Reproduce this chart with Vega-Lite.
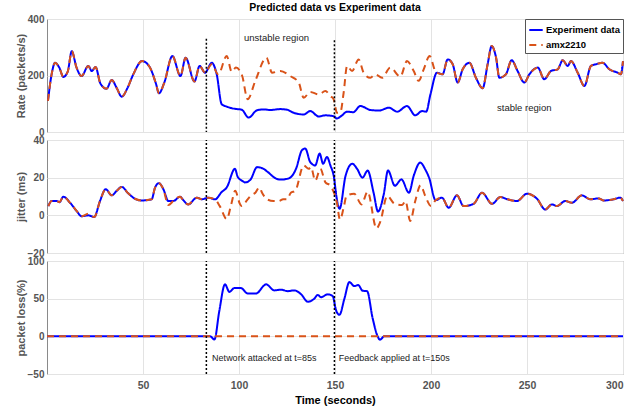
{
  "$schema": "https://vega.github.io/schema/vega-lite/v6.json",
  "padding": {"left": 14, "top": 2, "right": 5, "bottom": 5},
  "bounds": "flush",
  "config": {
    "font": "Liberation Sans",
    "view": {"stroke": "#8a8a8a", "strokeWidth": 1},
    "axis": {"gridColor": "#e3e3e3", "grid": true, "domain": false, "ticks": false, "labelFont": "Liberation Sans", "labelFontWeight": "bold", "labelColor": "#555555", "labelFontSize": 10, "titleFont": "Liberation Sans", "titleFontWeight": "bold", "titleFontSize": 11, "titleColor": "#555555"},
    "axisY": {"minExtent": 18, "maxExtent": 18, "labelPadding": 3, "titlePadding": 3},
    "line": {"strokeWidth": 2, "interpolate": "monotone"}
  },
  "spacing": 8,
  "resolve": {"legend": {"color": "independent", "strokeDash": "independent"}},
  "datasets": {
    "rate": [
      {"series":"Experiment data","t":0.5,"v":110},{"series":"Experiment data","t":2.4,"v":204},{"series":"Experiment data","t":4.2,"v":245},{"series":"Experiment data","t":6.4,"v":228},{"series":"Experiment data","t":8.5,"v":195},{"series":"Experiment data","t":10.8,"v":214},{"series":"Experiment data","t":12.9,"v":286},{"series":"Experiment data","t":15.3,"v":230},{"series":"Experiment data","t":18,"v":198},{"series":"Experiment data","t":21.5,"v":234},{"series":"Experiment data","t":23.3,"v":216},{"series":"Experiment data","t":25.3,"v":230},{"series":"Experiment data","t":27.8,"v":172},{"series":"Experiment data","t":31,"v":153},{"series":"Experiment data","t":33.7,"v":184},{"series":"Experiment data","t":36.3,"v":156},{"series":"Experiment data","t":38.9,"v":125},{"series":"Experiment data","t":42,"v":157},{"series":"Experiment data","t":45,"v":205},{"series":"Experiment data","t":49.5,"v":251},{"series":"Experiment data","t":53.3,"v":232},{"series":"Experiment data","t":56.8,"v":170},{"series":"Experiment data","t":58.3,"v":137},{"series":"Experiment data","t":61.1,"v":175},{"series":"Experiment data","t":65.3,"v":269},{"series":"Experiment data","t":69.5,"v":198},{"series":"Experiment data","t":72.2,"v":263},{"series":"Experiment data","t":76.8,"v":179},{"series":"Experiment data","t":79.5,"v":234},{"series":"Experiment data","t":82.3,"v":210},
      {"series":"Experiment data","t":85.8,"v":245},{"series":"Experiment data","t":88.4,"v":204},{"series":"Experiment data","t":91,"v":98},{"series":"Experiment data","t":93.6,"v":90},{"series":"Experiment data","t":97.9,"v":82},{"series":"Experiment data","t":101.4,"v":79},{"series":"Experiment data","t":105,"v":51},{"series":"Experiment data","t":109.4,"v":77},{"series":"Experiment data","t":113,"v":80},{"series":"Experiment data","t":116.3,"v":78},{"series":"Experiment data","t":121.5,"v":81},{"series":"Experiment data","t":125,"v":79},{"series":"Experiment data","t":128.5,"v":68},{"series":"Experiment data","t":133.7,"v":62},{"series":"Experiment data","t":137.1,"v":74},{"series":"Experiment data","t":141.5,"v":55},{"series":"Experiment data","t":145,"v":59},{"series":"Experiment data","t":149.3,"v":56},{"series":"Experiment data","t":151,"v":48},{"series":"Experiment data","t":153.5,"v":58},{"series":"Experiment data","t":156.3,"v":72},{"series":"Experiment data","t":159.5,"v":70},{"series":"Experiment data","t":163.2,"v":92},{"series":"Experiment data","t":168.4,"v":78},{"series":"Experiment data","t":173,"v":76},{"series":"Experiment data","t":178,"v":86},{"series":"Experiment data","t":182.4,"v":72},{"series":"Experiment data","t":187.5,"v":92},{"series":"Experiment data","t":191.8,"v":59},{"series":"Experiment data","t":195.3,"v":74},{"series":"Experiment data","t":197.5,"v":72},{"series":"Experiment data","t":199.7,"v":133},{"series":"Experiment data","t":203.1,"v":210},
      {"series":"Experiment data","t":206,"v":204},{"series":"Experiment data","t":208.7,"v":257},{"series":"Experiment data","t":211.3,"v":240},{"series":"Experiment data","t":213.9,"v":175},{"series":"Experiment data","t":216.5,"v":222},{"series":"Experiment data","t":220,"v":245},{"series":"Experiment data","t":223.4,"v":192},{"series":"Experiment data","t":226.9,"v":155},{"series":"Experiment data","t":229.5,"v":240},{"series":"Experiment data","t":231.6,"v":304},{"series":"Experiment data","t":233.9,"v":263},{"series":"Experiment data","t":235.6,"v":192},{"series":"Experiment data","t":239,"v":204},{"series":"Experiment data","t":242,"v":254},{"series":"Experiment data","t":245.1,"v":216},{"series":"Experiment data","t":248.6,"v":175},{"series":"Experiment data","t":251.2,"v":204},{"series":"Experiment data","t":255.6,"v":228},{"series":"Experiment data","t":259,"v":187},{"series":"Experiment data","t":262.5,"v":216},{"series":"Experiment data","t":266,"v":222},{"series":"Experiment data","t":268.6,"v":254},{"series":"Experiment data","t":271.2,"v":234},{"series":"Experiment data","t":272.9,"v":251},{"series":"Experiment data","t":276.4,"v":210},{"series":"Experiment data","t":279.9,"v":163},{"series":"Experiment data","t":283.3,"v":234},{"series":"Experiment data","t":285.9,"v":240},{"series":"Experiment data","t":289.4,"v":245},{"series":"Experiment data","t":292.9,"v":222},{"series":"Experiment data","t":297.2,"v":210},{"series":"Experiment data","t":298.9,"v":204},{"series":"Experiment data","t":300,"v":251},
      {"series":"amx2210","t":0.5,"v":110},{"series":"amx2210","t":2.4,"v":204},{"series":"amx2210","t":4.2,"v":245},{"series":"amx2210","t":6.4,"v":228},{"series":"amx2210","t":8.5,"v":195},{"series":"amx2210","t":10.8,"v":214},{"series":"amx2210","t":12.9,"v":286},{"series":"amx2210","t":15.3,"v":230},{"series":"amx2210","t":18,"v":198},{"series":"amx2210","t":21.5,"v":234},{"series":"amx2210","t":23.3,"v":216},{"series":"amx2210","t":25.3,"v":230},{"series":"amx2210","t":27.8,"v":172},{"series":"amx2210","t":31,"v":153},{"series":"amx2210","t":33.7,"v":184},{"series":"amx2210","t":36.3,"v":156},{"series":"amx2210","t":38.9,"v":125},{"series":"amx2210","t":42,"v":157},{"series":"amx2210","t":45,"v":205},{"series":"amx2210","t":49.5,"v":251},{"series":"amx2210","t":53.3,"v":232},{"series":"amx2210","t":56.8,"v":170},{"series":"amx2210","t":58.3,"v":137},{"series":"amx2210","t":61.1,"v":175},{"series":"amx2210","t":65.3,"v":269},{"series":"amx2210","t":69.5,"v":198},{"series":"amx2210","t":72.2,"v":263},{"series":"amx2210","t":76.8,"v":179},{"series":"amx2210","t":79.5,"v":234},{"series":"amx2210","t":82.3,"v":210},
      {"series":"amx2210","t":85.8,"v":240},{"series":"amx2210","t":89.2,"v":204},{"series":"amx2210","t":93.6,"v":269},{"series":"amx2210","t":96.2,"v":213},{"series":"amx2210","t":98.4,"v":228},{"series":"amx2210","t":101.6,"v":200},{"series":"amx2210","t":104.5,"v":116},{"series":"amx2210","t":108.5,"v":181},{"series":"amx2210","t":114.3,"v":263},{"series":"amx2210","t":117.2,"v":210},{"series":"amx2210","t":121.5,"v":216},{"series":"amx2210","t":126.7,"v":198},{"series":"amx2210","t":131.1,"v":175},{"series":"amx2210","t":133.7,"v":121},{"series":"amx2210","t":137.1,"v":142},{"series":"amx2210","t":141.5,"v":133},{"series":"amx2210","t":145,"v":145},{"series":"amx2210","t":147.6,"v":127},{"series":"amx2210","t":149.3,"v":116},{"series":"amx2210","t":151,"v":68},{"series":"amx2210","t":152.8,"v":70},{"series":"amx2210","t":154.5,"v":139},{"series":"amx2210","t":156.3,"v":234},{"series":"amx2210","t":158.9,"v":216},{"series":"amx2210","t":162.3,"v":257},{"series":"amx2210","t":164.9,"v":210},{"series":"amx2210","t":168.4,"v":192},{"series":"amx2210","t":171,"v":204},{"series":"amx2210","t":174.5,"v":192},{"series":"amx2210","t":178.8,"v":228},{"series":"amx2210","t":184,"v":196},{"series":"amx2210","t":187.5,"v":251},{"series":"amx2210","t":191,"v":216},{"series":"amx2210","t":193.6,"v":181},{"series":"amx2210","t":196.2,"v":222},{"series":"amx2210","t":199.3,"v":269},{"series":"amx2210","t":202.2,"v":216},{"series":"amx2210","t":203.1,"v":210},
      {"series":"amx2210","t":206,"v":204},{"series":"amx2210","t":208.7,"v":257},{"series":"amx2210","t":211.3,"v":240},{"series":"amx2210","t":213.9,"v":175},{"series":"amx2210","t":216.5,"v":222},{"series":"amx2210","t":220,"v":245},{"series":"amx2210","t":223.4,"v":192},{"series":"amx2210","t":226.9,"v":155},{"series":"amx2210","t":229.5,"v":240},{"series":"amx2210","t":231.6,"v":304},{"series":"amx2210","t":233.9,"v":263},{"series":"amx2210","t":235.6,"v":192},{"series":"amx2210","t":239,"v":204},{"series":"amx2210","t":242,"v":254},{"series":"amx2210","t":245.1,"v":216},{"series":"amx2210","t":248.6,"v":175},{"series":"amx2210","t":251.2,"v":204},{"series":"amx2210","t":255.6,"v":228},{"series":"amx2210","t":259,"v":187},{"series":"amx2210","t":262.5,"v":216},{"series":"amx2210","t":266,"v":222},{"series":"amx2210","t":268.6,"v":254},{"series":"amx2210","t":271.2,"v":234},{"series":"amx2210","t":272.9,"v":251},{"series":"amx2210","t":276.4,"v":210},{"series":"amx2210","t":279.9,"v":163},{"series":"amx2210","t":283.3,"v":234},{"series":"amx2210","t":285.9,"v":240},{"series":"amx2210","t":289.4,"v":245},{"series":"amx2210","t":292.9,"v":222},{"series":"amx2210","t":297.2,"v":210},{"series":"amx2210","t":298.9,"v":204},{"series":"amx2210","t":300,"v":251}
    ],
    "jitter": [
      {"series":"Experiment data","t":0.7,"v":4.9},{"series":"Experiment data","t":2.4,"v":7.6},{"series":"Experiment data","t":5,"v":7.6},{"series":"Experiment data","t":6.5,"v":7},{"series":"Experiment data","t":8.5,"v":9.9},{"series":"Experiment data","t":12,"v":6.7},{"series":"Experiment data","t":15.5,"v":2.2},{"series":"Experiment data","t":18,"v":-0.5},{"series":"Experiment data","t":21.5,"v":0},{"series":"Experiment data","t":24.6,"v":-0.9},{"series":"Experiment data","t":27.6,"v":7.6},{"series":"Experiment data","t":30.6,"v":13.9},{"series":"Experiment data","t":33.7,"v":10.6},{"series":"Experiment data","t":36.3,"v":13},{"series":"Experiment data","t":38.9,"v":15.1},{"series":"Experiment data","t":42.3,"v":11.7},{"series":"Experiment data","t":45.8,"v":8.8},{"series":"Experiment data","t":49.3,"v":7.9},{"series":"Experiment data","t":54.5,"v":8.5},{"series":"Experiment data","t":56.3,"v":14.8},{"series":"Experiment data","t":58.3,"v":17.1},{"series":"Experiment data","t":60.6,"v":13.9},{"series":"Experiment data","t":63.2,"v":7.6},{"series":"Experiment data","t":65.8,"v":7.6},{"series":"Experiment data","t":69.3,"v":9.9},{"series":"Experiment data","t":71,"v":8},{"series":"Experiment data","t":73.6,"v":5.8},{"series":"Experiment data","t":78,"v":9.4},{"series":"Experiment data","t":80.6,"v":8.5},{"series":"Experiment data","t":84,"v":9.4},{"series":"Experiment data","t":87.5,"v":8.5},
      {"series":"Experiment data","t":91,"v":12.4},{"series":"Experiment data","t":93.6,"v":14.8},{"series":"Experiment data","t":97.9,"v":24.7},{"series":"Experiment data","t":99.3,"v":20.5},{"series":"Experiment data","t":101.4,"v":18.5},{"series":"Experiment data","t":103.3,"v":17.5},{"series":"Experiment data","t":106,"v":19},{"series":"Experiment data","t":109.4,"v":25.6},{"series":"Experiment data","t":112.8,"v":24.7},{"series":"Experiment data","t":115,"v":23},{"series":"Experiment data","t":119.8,"v":19.3},{"series":"Experiment data","t":122,"v":19},{"series":"Experiment data","t":125.9,"v":19.6},{"series":"Experiment data","t":129.7,"v":24.7},{"series":"Experiment data","t":132.8,"v":34.6},{"series":"Experiment data","t":134.5,"v":35.5},{"series":"Experiment data","t":137.1,"v":28.3},{"series":"Experiment data","t":139.7,"v":26.5},{"series":"Experiment data","t":142,"v":32.8},{"series":"Experiment data","t":143.8,"v":27.4},{"series":"Experiment data","t":145.8,"v":31},{"series":"Experiment data","t":147.6,"v":26.5},{"series":"Experiment data","t":149.5,"v":20},{"series":"Experiment data","t":150.7,"v":10.3},{"series":"Experiment data","t":152.4,"v":3.5},{"series":"Experiment data","t":155.5,"v":21},{"series":"Experiment data","t":159,"v":27.4},{"series":"Experiment data","t":161.5,"v":24.7},{"series":"Experiment data","t":164.3,"v":20},{"series":"Experiment data","t":167,"v":23.8},{"series":"Experiment data","t":170.1,"v":12},{"series":"Experiment data","t":172.4,"v":2},{"series":"Experiment data","t":175.4,"v":11.2},{"series":"Experiment data","t":177.6,"v":23.8},{"series":"Experiment data","t":181.2,"v":15.7},{"series":"Experiment data","t":184.6,"v":19.1},{"series":"Experiment data","t":188.5,"v":12},{"series":"Experiment data","t":191,"v":21},{"series":"Experiment data","t":194.4,"v":28},{"series":"Experiment data","t":197.2,"v":24},{"series":"Experiment data","t":199,"v":20},{"series":"Experiment data","t":202.4,"v":8},
      {"series":"Experiment data","t":205.7,"v":9.4},{"series":"Experiment data","t":209.2,"v":4},{"series":"Experiment data","t":213.5,"v":10.6},{"series":"Experiment data","t":217,"v":4.9},{"series":"Experiment data","t":222.2,"v":6.1},{"series":"Experiment data","t":226.6,"v":12},{"series":"Experiment data","t":231.8,"v":6.1},{"series":"Experiment data","t":236.1,"v":9.7},{"series":"Experiment data","t":240,"v":8.5},{"series":"Experiment data","t":244.8,"v":7.6},{"series":"Experiment data","t":250,"v":11.5},{"series":"Experiment data","t":255.2,"v":8.8},{"series":"Experiment data","t":259.5,"v":3.1},{"series":"Experiment data","t":263,"v":5.8},{"series":"Experiment data","t":265.6,"v":4.9},{"series":"Experiment data","t":269.9,"v":7.6},{"series":"Experiment data","t":273.4,"v":6.7},{"series":"Experiment data","t":278.6,"v":10.6},{"series":"Experiment data","t":283,"v":8.5},{"series":"Experiment data","t":287.3,"v":9},{"series":"Experiment data","t":289.9,"v":7.9},{"series":"Experiment data","t":295.1,"v":8.5},{"series":"Experiment data","t":298.6,"v":9.4},{"series":"Experiment data","t":300,"v":7.6},
      {"series":"amx2210","t":0.7,"v":4.9},{"series":"amx2210","t":2.4,"v":7.6},{"series":"amx2210","t":5,"v":7.6},{"series":"amx2210","t":6.5,"v":7},{"series":"amx2210","t":8.5,"v":9.9},{"series":"amx2210","t":12,"v":6.7},{"series":"amx2210","t":15.5,"v":2.2},{"series":"amx2210","t":18,"v":-0.5},{"series":"amx2210","t":21.5,"v":0.8},{"series":"amx2210","t":24.6,"v":-0.9},{"series":"amx2210","t":27.6,"v":7.6},{"series":"amx2210","t":30.6,"v":13.9},{"series":"amx2210","t":33.7,"v":10.6},{"series":"amx2210","t":36.3,"v":13},{"series":"amx2210","t":38.9,"v":15.1},{"series":"amx2210","t":42.3,"v":11.7},{"series":"amx2210","t":45.8,"v":8.8},{"series":"amx2210","t":49.3,"v":7.9},{"series":"amx2210","t":54.5,"v":8.5},{"series":"amx2210","t":56.3,"v":14.8},{"series":"amx2210","t":58.3,"v":17.1},{"series":"amx2210","t":60.6,"v":13.9},{"series":"amx2210","t":63.2,"v":5.5},{"series":"amx2210","t":65.8,"v":7.6},{"series":"amx2210","t":69.3,"v":9.9},{"series":"amx2210","t":71,"v":8},{"series":"amx2210","t":73.6,"v":5.8},{"series":"amx2210","t":78,"v":9.4},{"series":"amx2210","t":80.6,"v":8.5},{"series":"amx2210","t":84,"v":9.4},{"series":"amx2210","t":87.5,"v":8.5},
      {"series":"amx2210","t":90,"v":4.9},{"series":"amx2210","t":93.6,"v":-2},{"series":"amx2210","t":96,"v":6},{"series":"amx2210","t":98,"v":13},{"series":"amx2210","t":100.5,"v":6},{"series":"amx2210","t":101.4,"v":4.9},{"series":"amx2210","t":104.5,"v":8.5},{"series":"amx2210","t":106,"v":10.3},{"series":"amx2210","t":108.5,"v":12},{"series":"amx2210","t":110.6,"v":14.8},{"series":"amx2210","t":112,"v":12},{"series":"amx2210","t":114.6,"v":8.5},{"series":"amx2210","t":118,"v":7.6},{"series":"amx2210","t":120.7,"v":7.6},{"series":"amx2210","t":123,"v":8.5},{"series":"amx2210","t":125,"v":8.5},{"series":"amx2210","t":127,"v":12},{"series":"amx2210","t":129.3,"v":13},{"series":"amx2210","t":133.7,"v":26.5},{"series":"amx2210","t":136.3,"v":24.7},{"series":"amx2210","t":137.5,"v":25.6},{"series":"amx2210","t":139.7,"v":18.4},{"series":"amx2210","t":142.4,"v":24.7},{"series":"amx2210","t":145,"v":17.5},{"series":"amx2210","t":147.6,"v":15.7},{"series":"amx2210","t":151,"v":6.6},{"series":"amx2210","t":152.6,"v":-2.3},{"series":"amx2210","t":154.5,"v":4},{"series":"amx2210","t":156,"v":10.3},{"series":"amx2210","t":160,"v":11.5},{"series":"amx2210","t":163.8,"v":5.8},{"series":"amx2210","t":167,"v":12.5},{"series":"amx2210","t":171.6,"v":-6.9},{"series":"amx2210","t":173.6,"v":-3.4},{"series":"amx2210","t":177.2,"v":10.3},{"series":"amx2210","t":181,"v":6.2},{"series":"amx2210","t":185,"v":5.5},{"series":"amx2210","t":186.7,"v":7.6},{"series":"amx2210","t":189.2,"v":-3},{"series":"amx2210","t":191.8,"v":7.6},{"series":"amx2210","t":194.6,"v":16},{"series":"amx2210","t":197,"v":10.3},{"series":"amx2210","t":200,"v":5},{"series":"amx2210","t":202.4,"v":8},
      {"series":"amx2210","t":205.7,"v":9.4},{"series":"amx2210","t":209.2,"v":4},{"series":"amx2210","t":213.5,"v":10.6},{"series":"amx2210","t":217,"v":4.9},{"series":"amx2210","t":222.2,"v":6.1},{"series":"amx2210","t":226.6,"v":12},{"series":"amx2210","t":231.8,"v":6.1},{"series":"amx2210","t":236.1,"v":9.7},{"series":"amx2210","t":240,"v":8.5},{"series":"amx2210","t":244.8,"v":7.6},{"series":"amx2210","t":250,"v":11.5},{"series":"amx2210","t":255.2,"v":8.8},{"series":"amx2210","t":259.5,"v":3.1},{"series":"amx2210","t":263,"v":5.8},{"series":"amx2210","t":265.6,"v":4.9},{"series":"amx2210","t":269.9,"v":7.6},{"series":"amx2210","t":273.4,"v":6.7},{"series":"amx2210","t":278.6,"v":10.6},{"series":"amx2210","t":283,"v":8.5},{"series":"amx2210","t":287.3,"v":9},{"series":"amx2210","t":289.9,"v":7.9},{"series":"amx2210","t":295.1,"v":8.5},{"series":"amx2210","t":298.6,"v":9.4},{"series":"amx2210","t":300,"v":7.6}
    ],
    "loss": [
      {"series":"Experiment data","t":0,"v":0},{"series":"Experiment data","t":85,"v":0},{"series":"Experiment data","t":87.2,"v":-4.3},{"series":"Experiment data","t":89.7,"v":33},{"series":"Experiment data","t":92.7,"v":69},{"series":"Experiment data","t":95,"v":59},{"series":"Experiment data","t":97.5,"v":64},{"series":"Experiment data","t":101,"v":64},{"series":"Experiment data","t":104.5,"v":57},{"series":"Experiment data","t":108.9,"v":57},{"series":"Experiment data","t":114.1,"v":69},{"series":"Experiment data","t":118.4,"v":61},{"series":"Experiment data","t":121.9,"v":62},{"series":"Experiment data","t":125.4,"v":60},{"series":"Experiment data","t":128.8,"v":61},{"series":"Experiment data","t":132.3,"v":56},{"series":"Experiment data","t":135.8,"v":46},{"series":"Experiment data","t":139.2,"v":50},{"series":"Experiment data","t":141,"v":55},{"series":"Experiment data","t":142.7,"v":52},{"series":"Experiment data","t":146.2,"v":55.7},{"series":"Experiment data","t":148.8,"v":53.5},{"series":"Experiment data","t":150.5,"v":35},{"series":"Experiment data","t":152.3,"v":28.5},{"series":"Experiment data","t":154.9,"v":50},{"series":"Experiment data","t":157.5,"v":72},{"series":"Experiment data","t":160,"v":66.7},{"series":"Experiment data","t":162.1,"v":68},{"series":"Experiment data","t":164.4,"v":60.5},{"series":"Experiment data","t":166.7,"v":60},{"series":"Experiment data","t":169.6,"v":24},{"series":"Experiment data","t":172.2,"v":0},{"series":"Experiment data","t":173.4,"v":-4.4},{"series":"Experiment data","t":175.7,"v":0},{"series":"Experiment data","t":300,"v":0},
      {"series":"amx2210","t":0,"v":0},{"series":"amx2210","t":300,"v":0}
    ],
    "rules_top": [{"t":83,"v":330,"v2":0},{"t":149.7,"v":325,"v2":0}],
    "rules_mid": [{"t":83,"v":-20,"v2":40},{"t":149.7,"v":-20,"v2":40}],
    "rules_bot": [{"t":83,"v":-50,"v2":100},{"t":149.7,"v":-50,"v2":100}],
    "notes_top": [{"t":102.6,"v":333,"label":"unstable region"},{"t":234.4,"v":85,"label":"stable region"}],
    "notes_bot": [{"t":86,"v":-29,"label":"Network attacked at t=85s"},{"t":152,"v":-29,"label":"Feedback applied at t=150s"}]
  },
  "vconcat": [
    {
      "title": {"text": "Predicted data vs Experiment data", "fontSize": 10.5, "fontWeight": "bold", "color": "black", "anchor": "middle", "frame": "group", "offset": 1},
      "width": 576, "height": 113,
      "encoding": {
        "x": {"field": "t", "type": "quantitative", "scale": {"domain": [0, 300], "nice": false}, "axis": {"values": [50, 100, 150, 200, 250, 300], "labels": false, "title": null, "minExtent": 0, "maxExtent": 0}},
        "y": {"field": "v", "type": "quantitative", "scale": {"domain": [0, 400], "nice": false}, "axis": {"values": [0, 200, 400], "title": "Rate (packets/s)"}}
      },
      "layer": [
        {
          "data": {"name": "rate"},
          "transform": [{"filter": "datum.series === 'Experiment data'"}],
          "mark": {"type": "line"},
          "encoding": {
            "color": {"field": "series", "type": "nominal", "scale": {"domain": ["Experiment data", "amx2210"], "range": ["#0000FF", "#D95319"]}, "legend": {"title": null, "orient": "top-right", "offset": 0, "fillColor": "white", "strokeColor": "#555555", "padding": 3, "symbolType": "stroke", "symbolSize": 180, "symbolStrokeWidth": 2.5, "labelFontSize": 9.5, "labelFontWeight": "bold", "labelColor": "black", "labelOffset": 2, "rowPadding": 2}},
            "strokeDash": {"field": "series", "type": "nominal", "scale": {"domain": ["Experiment data", "amx2210"], "range": [[1, 0], [7, 5]]}, "legend": {"title": null, "orient": "top-right", "offset": 0, "fillColor": "white", "strokeColor": "#555555", "padding": 3, "symbolType": "stroke", "symbolSize": 180, "symbolStrokeWidth": 2.5, "labelFontSize": 9.5, "labelFontWeight": "bold", "labelColor": "black", "labelOffset": 2, "rowPadding": 2}}
          }
        },
        {
          "data": {"name": "rate"},
          "transform": [{"filter": "datum.series === 'amx2210'"}],
          "mark": {"type": "line"},
          "encoding": {
            "color": {"field": "series", "type": "nominal"},
            "strokeDash": {"field": "series", "type": "nominal"}
          }
        },
        {
          "data": {"name": "rules_top"},
          "mark": {"type": "rule", "color": "black", "strokeDash": [2, 2], "strokeWidth": 1.5},
          "encoding": {"y2": {"field": "v2"}}
        },
        {
          "data": {"name": "notes_top"},
          "mark": {"type": "text", "align": "left", "baseline": "middle", "fontSize": 9.5, "color": "#222222", "font": "Liberation Sans"},
          "encoding": {"text": {"field": "label"}}
        }
      ]
    },
    {
      "width": 576, "height": 113,
      "encoding": {
        "x": {"field": "t", "type": "quantitative", "scale": {"domain": [0, 300], "nice": false}, "axis": {"values": [50, 100, 150, 200, 250, 300], "labels": false, "title": null, "minExtent": 0, "maxExtent": 0}},
        "y": {"field": "v", "type": "quantitative", "scale": {"domain": [-20, 40], "nice": false}, "axis": {"values": [-20, 0, 20, 40], "title": "jitter (ms)"}}
      },
      "layer": [
        {
          "data": {"name": "jitter"},
          "transform": [{"filter": "datum.series === 'Experiment data'"}],
          "mark": {"type": "line"},
          "encoding": {
            "color": {"field": "series", "type": "nominal", "scale": {"domain": ["Experiment data", "amx2210"], "range": ["#0000FF", "#D95319"]}, "legend": null},
            "strokeDash": {"field": "series", "type": "nominal", "scale": {"domain": ["Experiment data", "amx2210"], "range": [[1, 0], [7, 5]]}, "legend": null}
          }
        },
        {
          "data": {"name": "jitter"},
          "transform": [{"filter": "datum.series === 'amx2210'"}],
          "mark": {"type": "line"},
          "encoding": {
            "color": {"field": "series", "type": "nominal", "legend": null},
            "strokeDash": {"field": "series", "type": "nominal", "legend": null}
          }
        },
        {
          "data": {"name": "rules_mid"},
          "mark": {"type": "rule", "color": "black", "strokeDash": [2, 2], "strokeWidth": 1.5},
          "encoding": {"y2": {"field": "v2"}}
        }
      ]
    },
    {
      "width": 576, "height": 113,
      "encoding": {
        "x": {"field": "t", "type": "quantitative", "scale": {"domain": [0, 300], "nice": false}, "axis": {"values": [50, 100, 150, 200, 250, 300], "title": "Time (seconds)", "titleColor": "black", "titleFontSize": 11, "labelPadding": 6, "labelFontSize": 10.5, "titlePadding": 4}},
        "y": {"field": "v", "type": "quantitative", "scale": {"domain": [-50, 100], "nice": false}, "axis": {"values": [-50, 0, 50, 100], "title": "packet loss(%)"}}
      },
      "layer": [
        {
          "data": {"name": "loss"},
          "transform": [{"filter": "datum.series === 'Experiment data'"}],
          "mark": {"type": "line"},
          "encoding": {
            "color": {"field": "series", "type": "nominal", "scale": {"domain": ["Experiment data", "amx2210"], "range": ["#0000FF", "#D95319"]}, "legend": null},
            "strokeDash": {"field": "series", "type": "nominal", "scale": {"domain": ["Experiment data", "amx2210"], "range": [[1, 0], [7, 5]]}, "legend": null}
          }
        },
        {
          "data": {"name": "loss"},
          "transform": [{"filter": "datum.series === 'amx2210'"}],
          "mark": {"type": "line"},
          "encoding": {
            "color": {"field": "series", "type": "nominal", "legend": null},
            "strokeDash": {"field": "series", "type": "nominal", "legend": null}
          }
        },
        {
          "data": {"name": "rules_bot"},
          "mark": {"type": "rule", "color": "black", "strokeDash": [2, 2], "strokeWidth": 1.5},
          "encoding": {"y2": {"field": "v2"}}
        },
        {
          "data": {"name": "notes_bot"},
          "mark": {"type": "text", "align": "left", "baseline": "middle", "fontSize": 9, "color": "#222222", "font": "Liberation Sans"},
          "encoding": {"text": {"field": "label"}}
        }
      ]
    }
  ]
}
